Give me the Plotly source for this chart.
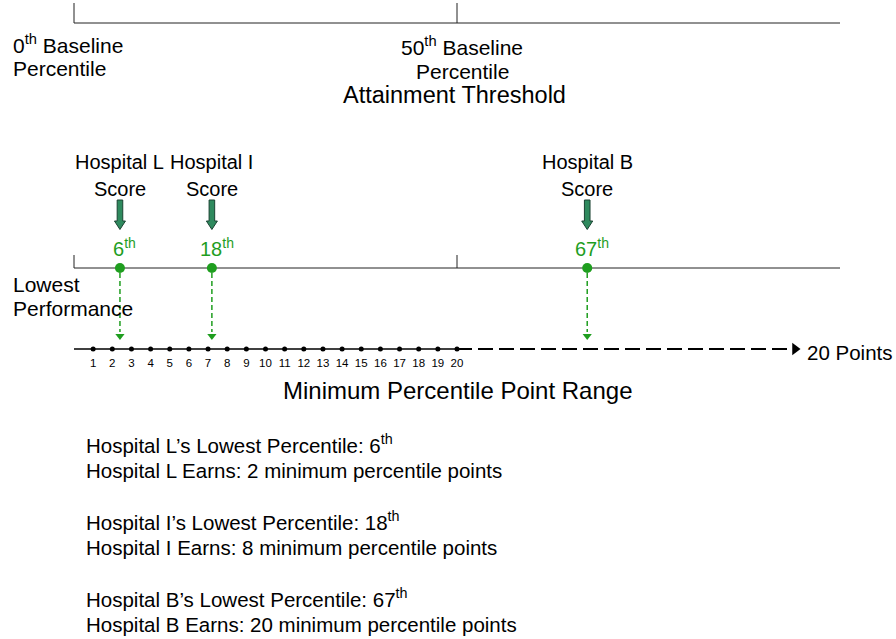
import plotly.graph_objects as go

# ---------------- data ----------------
hospitals = ["L", "I", "B"]
lowest_percentiles = [6, 18, 67]
points_earned = [2, 8, 20]
baseline_ticks = [0, 50]
percentile_range = [0, 100]
point_values = list(range(1, 21))
max_points = 20
threshold_percentile = 50

# ---------------- layout constants ----------------
W, H = 896, 639
X0_PX, PX_PER_PCT = 74, 7.66
PCT_PER_POINT = threshold_percentile / max_points

GREEN = "#1f9e1f"
ARROW_FILL = "#2f8a5e"
ARROW_LINE = "#1b4332"
LINE = "#222222"
FONT = "Liberation Sans, Arial, sans-serif"


def xr(px):
    return (px - X0_PX) / PX_PER_PCT


def pw(px):
    return px / PX_PER_PCT


def paper_x(px):
    return px / W


fig = go.Figure()

# top scale line with ticks
tx, ty = [percentile_range[0], percentile_range[1], None], [23, 23, None]
for t in baseline_ticks:
    tx += [t, t, None]
    ty += [3, 23, None]
fig.add_trace(go.Scatter(x=tx, y=ty, mode="lines", line=dict(color=LINE, width=1), hoverinfo="skip"))

# middle (lowest performance) line with ticks
mx, my = [percentile_range[0], percentile_range[1], None], [268, 268, None]
for t in baseline_ticks:
    mx += [t, t, None]
    my += [255, 268, None]
fig.add_trace(go.Scatter(x=mx, y=my, mode="lines", line=dict(color=LINE, width=1), hoverinfo="skip"))

# green dashed drop lines
dx, dy = [], []
for p in lowest_percentiles:
    dx += [p, p, None]
    dy += [273, 332, None]
fig.add_trace(go.Scatter(x=dx, y=dy, mode="lines",
                         line=dict(color=GREEN, width=1.5, dash="5px,3px"), hoverinfo="skip"))
fig.add_trace(go.Scatter(x=lowest_percentiles, y=[336] * len(lowest_percentiles), mode="markers",
                         marker=dict(symbol="triangle-down", size=8, color=GREEN), hoverinfo="skip"))
fig.add_trace(go.Scatter(x=lowest_percentiles, y=[268] * len(lowest_percentiles), mode="markers",
                         marker=dict(symbol="circle", size=10, color=GREEN), hoverinfo="skip"))

# points number line (xaxis2 in point units)
ARROW_END_PX = 790
x_end_pts = xr(ARROW_END_PX) / PCT_PER_POINT
fig.add_trace(go.Scatter(x=[0, max_points], y=[349, 349], xaxis="x2", mode="lines",
                         line=dict(color="black", width=1.5), hoverinfo="skip"))
fig.add_trace(go.Scatter(x=[max_points, x_end_pts], y=[349, 349], xaxis="x2", mode="lines",
                         line=dict(color="black", width=2, dash="15px,6px"), hoverinfo="skip"))
fig.add_trace(go.Scatter(x=[x_end_pts + pw(5) / PCT_PER_POINT], y=[349], xaxis="x2", mode="markers",
                         marker=dict(symbol="triangle-right", size=11, color="black"), hoverinfo="skip"))
fig.add_trace(go.Scatter(x=point_values, y=[349] * len(point_values), xaxis="x2", mode="markers",
                         marker=dict(symbol="circle", size=5, color="black"), hoverinfo="skip"))
fig.add_trace(go.Scatter(x=point_values, y=[364] * len(point_values), xaxis="x2", mode="text",
                         text=[str(v) for v in point_values],
                         textfont=dict(family=FONT, size=11.5, color="black"), hoverinfo="skip"))

# block arrows above each score
shapes = []
a, h = pw(2.8), pw(5.5)
for p in lowest_percentiles:
    path = (f"M {p - a},200 L {p + a},200 L {p + a},221 L {p + h},221 "
            f"L {p},229.5 L {p - h},221 L {p - a},221 Z")
    shapes.append(dict(type="path", xref="x", yref="y", path=path,
                       fillcolor=ARROW_FILL, line=dict(color=ARROW_LINE, width=1)))

annotations = []


def txt(x, y, text, size, xanchor="center", color="black", xref="paper", xshift=0):
    annotations.append(dict(x=x, y=y, xref=xref, yref="y", text=text, showarrow=False,
                            xanchor=xanchor, yanchor="middle", xshift=xshift,
                            font=dict(family=FONT, size=size, color=color)))


# top labels
txt(paper_x(11), 44, f"{baseline_ticks[0]}<sup>th</sup> Baseline", 21, xanchor="left")
txt(paper_x(11), 68, "Percentile", 21, xanchor="left")
txt(paper_x(462), 46, f"{baseline_ticks[1]}<sup>th</sup> Baseline", 21)
txt(paper_x(462), 71, "Percentile", 21)
txt(paper_x(454), 95, "Attainment Threshold", 23.5)

# hospital score labels and percentile values
for name, p in zip(hospitals, lowest_percentiles):
    txt(p, 162, f"Hospital {name}", 20, xref="x")
    txt(p, 189, "Score", 20, xref="x")
    txt(p, 247, f"{p}<sup>th</sup>", 20, xref="x", color=GREEN, xshift=5)

txt(paper_x(11), 284, "Lowest", 21, xanchor="left")
txt(paper_x(11), 308, "Performance", 21, xanchor="left")

txt(paper_x(805), 352, f"{max_points} Points", 20.5, xanchor="left")
txt(paper_x(458), 390, "Minimum Percentile Point Range", 24)

# summary text
summary_y = [444, 470, 521, 547, 598, 624]
for i, (name, p, pts) in enumerate(zip(hospitals, lowest_percentiles, points_earned)):
    txt(paper_x(84), summary_y[2 * i],
        f"Hospital {name}\u2019s Lowest Percentile: {p}<sup>th</sup>", 20.5, xanchor="left")
    txt(paper_x(84), summary_y[2 * i + 1],
        f"Hospital {name} Earns: {pts} minimum percentile points", 20.5, xanchor="left")

fig.update_layout(
    width=W, height=H, autosize=False,
    margin=dict(l=0, r=0, t=0, b=0),
    paper_bgcolor="white", plot_bgcolor="white",
    showlegend=False,
    xaxis=dict(range=[xr(0), xr(W)], visible=False, fixedrange=True),
    xaxis2=dict(range=[xr(0) / PCT_PER_POINT, xr(W) / PCT_PER_POINT], overlaying="x",
                visible=False, fixedrange=True),
    yaxis=dict(range=[H, 0], visible=False, fixedrange=True),
    shapes=shapes,
    annotations=annotations,
    font=dict(family=FONT),
)

fig.write_html("out.html", config=dict(displayModeBar=False),
               post_script="document.body.style.margin='0';document.body.style.overflow='hidden';")
